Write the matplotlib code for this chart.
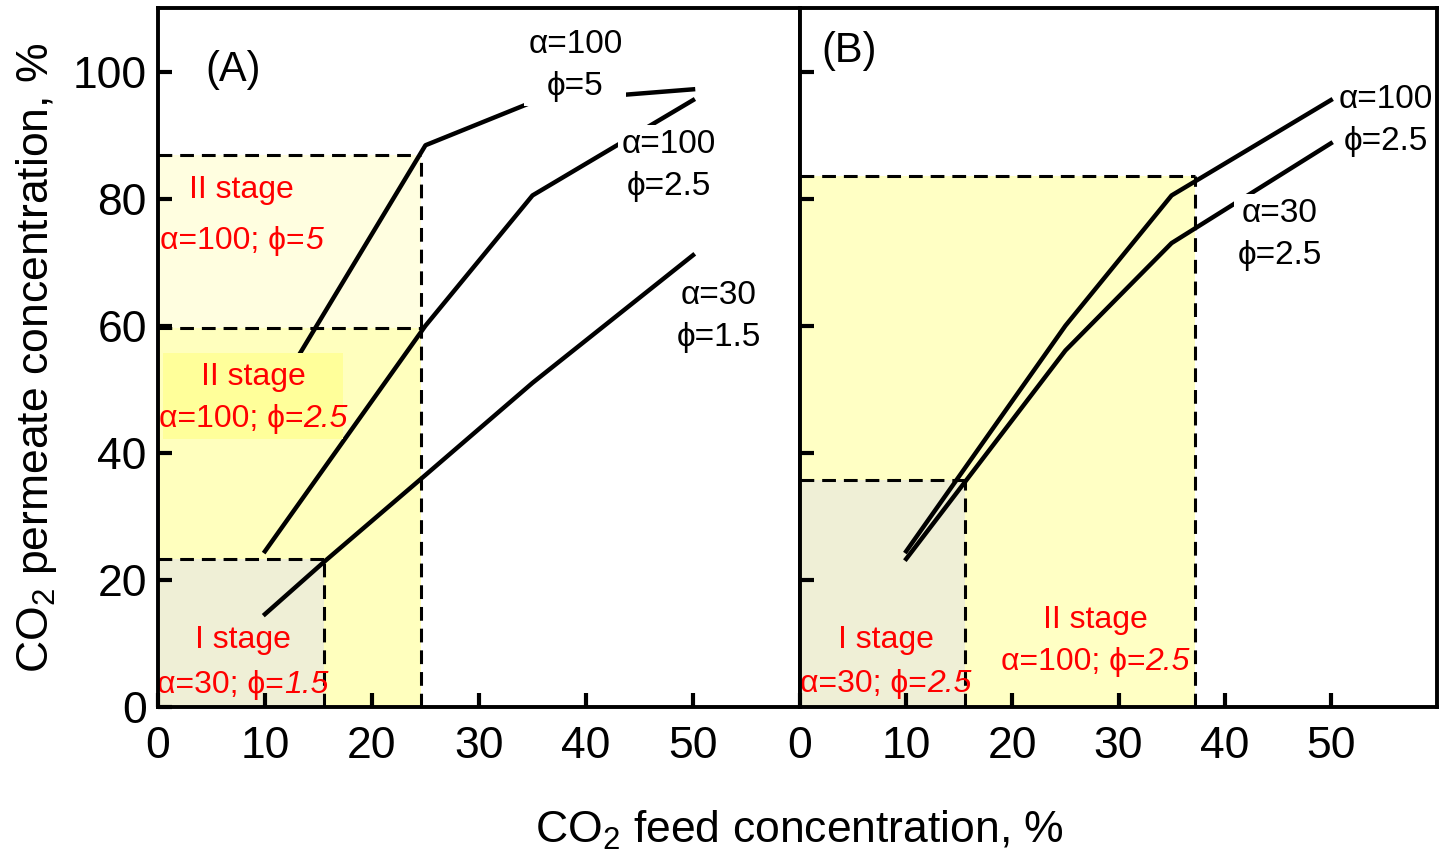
import matplotlib
matplotlib.use("Agg")
import matplotlib.pyplot as plt
import matplotlib.transforms as mtransforms
from matplotlib.patches import Rectangle

plt.rcParams['font.family'] = ['Liberation Sans', 'DejaVu Sans']
plt.rcParams['mathtext.fontset'] = 'custom'
plt.rcParams['mathtext.rm'] = 'Liberation Sans'

# feed CO2 (%) vs permeate CO2 (%)
feed_a100_p5 = [10, 25, 35, 50]
perm_a100_p5 = [46.5, 88.4, 95.2, 97.2]
feed_a100_p25 = [10, 25, 35, 50]
perm_a100_p25 = [24.5, 60.0, 80.5, 95.5]
feed_a30_p15 = [10, 15.5, 25, 35, 50]
perm_a30_p15 = [14.6, 22.8, 36.5, 51.0, 71.1]

feed_b_a100 = [10, 25, 35, 50]
perm_b_a100 = [24.5, 60.0, 80.5, 95.5]
feed_b_a30 = [10, 25, 35, 50]
perm_b_a30 = [23.3, 56.1, 73.0, 88.7]

# stage boundaries (feed, permeate)
a_stage1 = (15.5, 23.3)
a_stage2 = (24.6, 59.7)
a_stage2_p5 = (24.6, 86.8)
b_stage1 = (15.5, 35.7)
b_stage2 = (37.2, 83.6)

xticks = [0, 10, 20, 30, 40, 50]
yticks = [0, 20, 40, 60, 80, 100]

fig = plt.figure(figsize=(14.41, 8.59), dpi=100)
axA = fig.add_axes([0.1096, 0.177, 0.4456, 0.8137])
axB = fig.add_axes([0.5552, 0.177, 0.4420, 0.8137])

LW = 3.2
DASH = dict(color='black', lw=2.2, ls=(0, (4.5, 2.6)), zorder=3)
lbl = dict(fontsize=24, ha='center', va='center', linespacing=1.45, zorder=6,
           bbox=dict(facecolor='white', edgecolor='none', pad=3))


def stage_box(ax, st, color):
    ax.fill_between([0, st[0]], 0, st[1], color=color, lw=0, zorder=1)
    ax.plot([0, st[0]], [st[1], st[1]], **DASH)
    ax.plot([st[0], st[0]], [0, st[1]], **DASH)


def red_label(ax, x, y, main, ital, size=23):
    # upright part + italic number, centred together on (x, y)
    t1 = ax.text(x, y, main, color='red', fontsize=size, ha='right', va='center', zorder=7)
    t2 = ax.text(x, y, ital, color='red', fontsize=size, ha='left', va='center',
                 style='italic', zorder=7)
    r = fig.canvas.get_renderer()
    w1 = t1.get_window_extent(r).width
    w2 = t2.get_window_extent(r).width
    off = mtransforms.ScaledTranslation((w1 - w2) / 2 / fig.dpi, 0, fig.dpi_scale_trans)
    t1.set_transform(ax.transData + off)
    t2.set_transform(ax.transData + off)


# ---- panel A
axA.fill_between([0, a_stage2_p5[0]], a_stage2[1], a_stage2_p5[1], color='#FFFEE0', lw=0, zorder=1)
stage_box(axA, a_stage2, '#FFFFBE')
stage_box(axA, a_stage1, '#EFEFD6')
axA.plot([0, a_stage2_p5[0]], [a_stage2_p5[1]] * 2, **DASH)
axA.plot([a_stage2_p5[0]] * 2, [a_stage2[1], a_stage2_p5[1]], **DASH)

axA.plot(feed_a100_p5, perm_a100_p5, color='black', lw=LW, zorder=4)
axA.plot(feed_a100_p25, perm_a100_p25, color='black', lw=LW, zorder=4)
axA.plot(feed_a30_p15, perm_a30_p15, color='black', lw=LW, zorder=4)

axA.add_patch(Rectangle((0.5, 42.2), 16.8, 13.5, facecolor='#FFFF9A', edgecolor='none', zorder=5))

axA.text(7.0, 100.2, '(A)', fontsize=30, ha='center', va='center')
axA.text(39.0, 101.0, 'α=100\nϕ=5', **lbl)
axA.text(47.75, 85.2, 'α=100\nϕ=2.5', **lbl)
axA.text(52.4, 61.5, 'α=30\nϕ=1.5', **lbl)

axA.text(7.8, 81.4, 'II stage', color='red', fontsize=23, ha='center', va='center', zorder=7)
red_label(axA, 7.8, 73.4, 'α=100; ϕ=', '5')
axA.text(8.9, 52.0, 'II stage', color='red', fontsize=23, ha='center', va='center', zorder=7)
red_label(axA, 8.9, 45.3, 'α=100; ϕ=', '2.5')
axA.text(7.9, 10.5, 'I stage', color='red', fontsize=23, ha='center', va='center', zorder=7)
red_label(axA, 7.9, 3.5, 'α=30; ϕ=', '1.5')

# ---- panel B
stage_box(axB, b_stage2, '#FFFFC4')
stage_box(axB, b_stage1, '#EFEFD6')

axB.plot(feed_b_a100, perm_b_a100, color='black', lw=LW, zorder=4)
axB.plot(feed_b_a30, perm_b_a30, color='black', lw=LW, zorder=4)

axB.text(4.66, 103.3, '(B)', fontsize=30, ha='center', va='center')
axB.text(55.2, 92.3, 'α=100\nϕ=2.5', **lbl)
axB.text(45.2, 74.4, 'α=30\nϕ=2.5', **lbl)

axB.text(8.1, 10.5, 'I stage', color='red', fontsize=23, ha='center', va='center', zorder=7)
red_label(axB, 8.1, 3.6, 'α=30; ϕ=', '2.5')
axB.text(27.8, 13.7, 'II stage', color='red', fontsize=23, ha='center', va='center', zorder=7)
red_label(axB, 27.8, 7.1, 'α=100; ϕ=', '2.5')

for ax in (axA, axB):
    ax.set_xlim(0, 60)
    ax.set_ylim(0, 110)
    ax.set_xticks(xticks)
    ax.set_yticks(yticks)
    ax.tick_params(direction='in', length=10, width=3, labelsize=32, pad=14)
    ax.tick_params(axis='y', pad=8)
    for s in ax.spines.values():
        s.set_linewidth(2.8)
        s.set_zorder(8)

axB.set_yticks([20, 40, 60, 80, 100])
axB.set_yticklabels([])

axA.set_ylabel('CO$_2$ permeate concentration, %', fontsize=32, labelpad=10)
fig.text(0.555, 0.033, 'CO$_2$ feed concentration, %', fontsize=32, ha='center', va='center')

fig.savefig('out.png', dpi=100)
